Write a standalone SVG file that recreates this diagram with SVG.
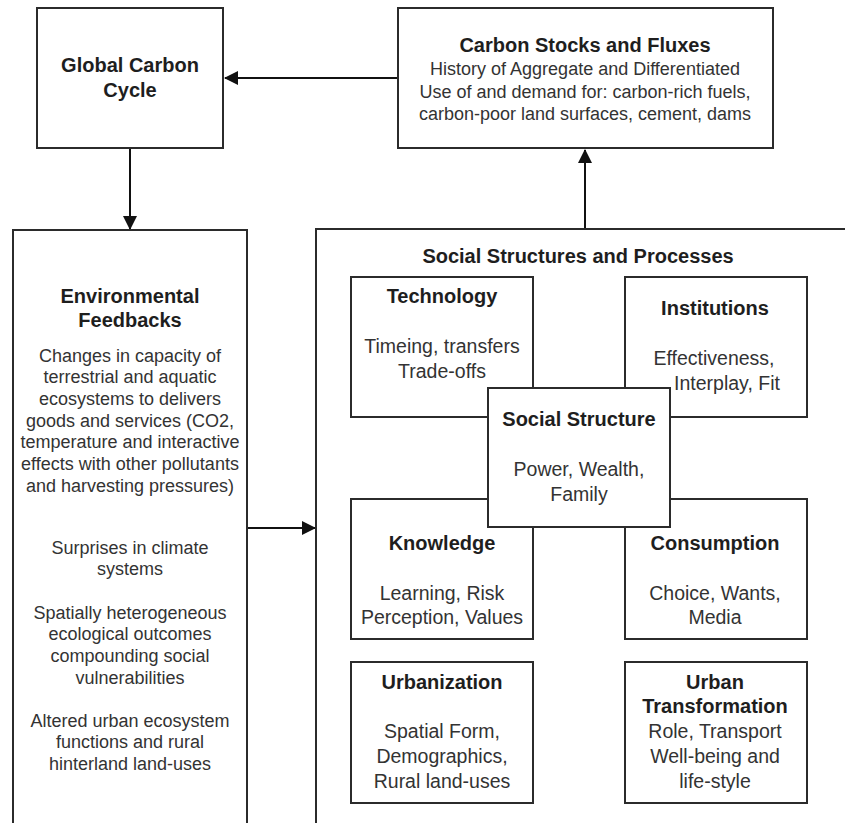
<svg xmlns="http://www.w3.org/2000/svg" width="845" height="823" viewBox="0 0 845 823">
  <style>
    .box { fill: #ffffff; stroke: #2b2b2b; stroke-width: 2; }
    .title { font-family: "Liberation Sans", Arial, sans-serif; font-weight: bold; font-size: 20px; fill: #1e1e1e; text-anchor: middle; }
    .body { font-family: "Liberation Sans", Arial, sans-serif; font-size: 19.5px; fill: #333333; text-anchor: middle; }
    .small { font-family: "Liberation Sans", Arial, sans-serif; font-size: 18px; fill: #333333; text-anchor: middle; }
    .link { stroke: #111111; stroke-width: 2; fill: none; }
  </style>
  <defs>
    <marker id="arrow" viewBox="0 0 14 14" refX="13" refY="7" markerWidth="14" markerHeight="14" markerUnits="userSpaceOnUse" orient="auto">
      <path d="M0,0 L14,7 L0,14 Z" fill="#111111"/>
    </marker>
  </defs>
  <rect width="845" height="823" fill="#ffffff"/>

  <!-- connectors -->
  <g id="connectors">
    <line class="link" x1="398" y1="78" x2="225" y2="78" marker-end="url(#arrow)"/>
    <line class="link" x1="130" y1="148" x2="130" y2="229" marker-end="url(#arrow)"/>
    <line class="link" x1="585" y1="229" x2="585" y2="150" marker-end="url(#arrow)"/>
    <line class="link" x1="247" y1="528" x2="315" y2="528" marker-end="url(#arrow)"/>
  </g>

  <g id="global-carbon-cycle">
    <rect class="box" x="37" y="8" width="186" height="140"/>
    <text class="title" x="130" y="72">Global Carbon</text>
    <text class="title" x="130" y="97">Cycle</text>
  </g>

  <g id="carbon-stocks">
    <rect class="box" x="398" y="8" width="375" height="140"/>
    <text class="title" x="585" y="52">Carbon Stocks and Fluxes</text>
    <text class="small" x="585" y="74.5">History of Aggregate and Differentiated</text>
    <text class="small" x="585" y="97.5">Use of and demand for: carbon-rich fuels,</text>
    <text class="small" x="585" y="119.5">carbon-poor land surfaces, cement, dams</text>
  </g>

  <g id="environmental-feedbacks">
    <rect class="box" x="13" y="230" width="234" height="620"/>
    <text class="title" x="130" y="303">Environmental</text>
    <text class="title" x="130" y="327">Feedbacks</text>
    <text class="small" x="130" y="361.5">Changes in capacity of</text>
    <text class="small" x="130" y="383.2">terrestrial and aquatic</text>
    <text class="small" x="130" y="404.9">ecosystems to delivers</text>
    <text class="small" x="130" y="426.6">goods and services (CO2,</text>
    <text class="small" x="130" y="448.3">temperature and interactive</text>
    <text class="small" x="130" y="470">effects with other pollutants</text>
    <text class="small" x="130" y="491.7">and harvesting pressures)</text>
    <text class="small" x="130" y="553.5">Surprises in climate</text>
    <text class="small" x="130" y="575">systems</text>
    <text class="small" x="130" y="618.5">Spatially heterogeneous</text>
    <text class="small" x="130" y="640">ecological outcomes</text>
    <text class="small" x="130" y="661.5">compounding social</text>
    <text class="small" x="130" y="683.5">vulnerabilities</text>
    <text class="small" x="130" y="726.5">Altered urban ecosystem</text>
    <text class="small" x="130" y="748">functions and rural</text>
    <text class="small" x="130" y="769.5">hinterland land-uses</text>
  </g>

  <g id="social-structures">
    <rect class="box" x="316" y="229" width="560" height="620"/>
    <text class="title" x="578" y="263">Social Structures and Processes</text>
  </g>

  <g id="technology">
    <rect class="box" x="351" y="277" width="182" height="140"/>
    <text class="title" x="442" y="303">Technology</text>
    <text class="body" x="442" y="353">Timeing, transfers</text>
    <text class="body" x="442" y="378">Trade-offs</text>
  </g>

  <g id="institutions">
    <rect class="box" x="625" y="277" width="182" height="140"/>
    <text class="title" x="715" y="315">Institutions</text>
    <text class="body" x="714" y="365">Effectiveness,</text>
    <text class="body" x="727" y="390">Interplay, Fit</text>
  </g>

  <g id="knowledge">
    <rect class="box" x="351" y="499" width="182" height="140"/>
    <text class="title" x="442" y="550">Knowledge</text>
    <text class="body" x="442" y="600">Learning, Risk</text>
    <text class="body" x="442" y="624">Perception, Values</text>
  </g>

  <g id="consumption">
    <rect class="box" x="625" y="499" width="182" height="140"/>
    <text class="title" x="715" y="550">Consumption</text>
    <text class="body" x="715" y="600">Choice, Wants,</text>
    <text class="body" x="715" y="624">Media</text>
  </g>

  <g id="social-structure">
    <rect class="box" x="488" y="388" width="182" height="139"/>
    <text class="title" x="579" y="426">Social Structure</text>
    <text class="body" x="579" y="476">Power, Wealth,</text>
    <text class="body" x="579" y="501">Family</text>
  </g>

  <g id="urbanization">
    <rect class="box" x="351" y="662" width="182" height="141"/>
    <text class="title" x="442" y="689">Urbanization</text>
    <text class="body" x="442" y="738">Spatial Form,</text>
    <text class="body" x="442" y="763">Demographics,</text>
    <text class="body" x="442" y="788">Rural land-uses</text>
  </g>

  <g id="urban-transformation">
    <rect class="box" x="625" y="662" width="182" height="141"/>
    <text class="title" x="715" y="689">Urban</text>
    <text class="title" x="715" y="713">Transformation</text>
    <text class="body" x="715" y="738">Role, Transport</text>
    <text class="body" x="715" y="763">Well-being and</text>
    <text class="body" x="715" y="788">life-style</text>
  </g>
</svg>
